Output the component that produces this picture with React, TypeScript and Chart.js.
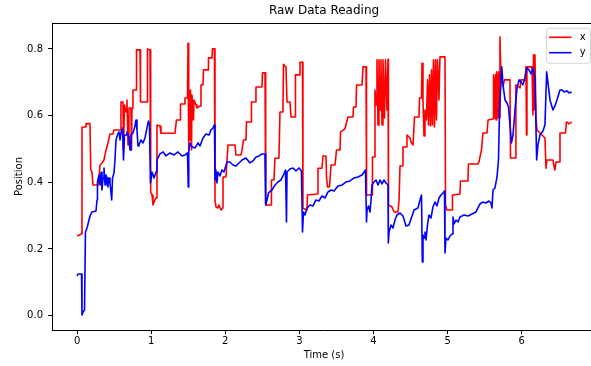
import React, { useEffect, useRef } from "react";
import { Chart, registerables } from "chart.js";

Chart.register(...registerables);

const TITLE = "Raw Data Reading";
const X_LABEL = "Time (s)";
const Y_LABEL = "Position";
const SERIES_NAMES = ["x", "y"];
const SERIES_COLORS = ["#ff0000", "#0000ff"];

const xTicks = [0, 1, 2, 3, 4, 5, 6];
const yTicks = [0, 0.2, 0.4, 0.6, 0.8];
const X_MIN = -0.3387;
const X_MAX = 7.003;
const Y_MIN = -0.0429;
const Y_MAX = 0.8777;

// series "x" (red)
const xSeriesTime = [
  0.0, 0.06, 0.066, 0.107, 0.12, 0.174, 0.184, 0.2, 0.215, 0.286, 0.31, 0.336, 0.363, 0.39, 0.417, 0.444,
  0.484, 0.498, 0.586, 0.592, 0.619, 0.626, 0.64, 0.66, 0.673, 0.687, 0.7, 0.727, 0.734, 0.741, 0.754, 0.795,
  0.802, 0.849, 0.856, 0.947, 0.95, 0.984, 0.993, 1.011, 1.024, 1.051, 1.065, 1.078, 1.119, 1.132, 1.321, 1.341,
  1.389, 1.395, 1.443, 1.456, 1.49, 1.497, 1.503, 1.51, 1.524, 1.53, 1.544, 1.551, 1.571, 1.578, 1.605, 1.618,
  1.659, 1.672, 1.699, 1.706, 1.767, 1.773, 1.82, 1.827, 1.854, 1.861, 1.874, 1.9, 1.913, 1.942, 1.962, 1.969,
  2.009, 2.036, 2.131, 2.144, 2.212, 2.226, 2.245, 2.279, 2.286, 2.347, 2.353, 2.407, 2.414, 2.495, 2.502, 2.536,
  2.545, 2.617, 2.623, 2.657, 2.67, 2.724, 2.738, 2.778, 2.785, 2.819, 2.833, 2.873, 2.887, 2.941, 2.947, 2.995,
  3.008, 3.042, 3.048, 3.102, 3.109, 3.244, 3.251, 3.305, 3.318, 3.359, 3.366, 3.38, 3.406, 3.427, 3.481, 3.501,
  3.548, 3.555, 3.615, 3.656, 3.723, 3.73, 3.764, 3.771, 3.845, 3.859, 3.899, 3.906, 3.98, 3.986, 4.007, 4.02,
  4.034, 4.047, 4.061, 4.074, 4.088, 4.101, 4.115, 4.128, 4.149, 4.162, 4.182, 4.196, 4.202, 4.25, 4.277, 4.331,
  4.345, 4.358, 4.385, 4.398, 4.439, 4.452, 4.493, 4.507, 4.534, 4.553, 4.614, 4.621, 4.648, 4.655, 4.668, 4.682,
  4.695, 4.715, 4.729, 4.743, 4.756, 4.77, 4.783, 4.796, 4.81, 4.823, 4.837, 4.85, 4.864, 4.884, 4.897, 4.965,
  4.972, 4.992, 5.06, 5.066, 5.167, 5.174, 5.275, 5.282, 5.41, 5.424, 5.457, 5.478, 5.532, 5.546, 5.613, 5.62,
  5.627, 5.634, 5.64, 5.647, 5.654, 5.661, 5.667, 5.674, 5.68, 5.687, 5.694, 5.707, 5.721, 5.748, 5.768, 5.842,
  5.849, 5.916, 5.922, 5.977, 5.99, 6.044, 6.058, 6.065, 6.071, 6.139, 6.152, 6.159, 6.172, 6.179, 6.193, 6.206,
  6.314, 6.328, 6.341, 6.422, 6.436, 6.449, 6.463, 6.51, 6.517, 6.591, 6.604, 6.638, 6.675,
];
const xSeriesPos = [
  0.239, 0.245, 0.565, 0.566, 0.576, 0.576, 0.437, 0.431, 0.392, 0.392, 0.452, 0.458, 0.467, 0.497, 0.518, 0.545,
  0.545, 0.557, 0.557, 0.641, 0.641, 0.497, 0.632, 0.611, 0.647, 0.512, 0.623, 0.623, 0.497, 0.623, 0.677, 0.677,
  0.797, 0.797, 0.641, 0.641, 0.8, 0.797, 0.371, 0.362, 0.332, 0.347, 0.353, 0.572, 0.569, 0.547, 0.547, 0.587,
  0.587, 0.635, 0.635, 0.653, 0.653, 0.817, 0.497, 0.688, 0.527, 0.677, 0.497, 0.662, 0.587, 0.647, 0.632, 0.623,
  0.629, 0.692, 0.692, 0.737, 0.737, 0.773, 0.773, 0.8, 0.8, 0.347, 0.326, 0.323, 0.332, 0.317, 0.323, 0.416,
  0.416, 0.512, 0.512, 0.482, 0.482, 0.497, 0.527, 0.527, 0.581, 0.581, 0.641, 0.641, 0.686, 0.686, 0.728, 0.728,
  0.332, 0.332, 0.407, 0.407, 0.472, 0.472, 0.611, 0.611, 0.754, 0.745, 0.641, 0.641, 0.596, 0.596, 0.722, 0.722,
  0.76, 0.76, 0.322, 0.317, 0.362, 0.365, 0.442, 0.442, 0.479, 0.479, 0.416, 0.386, 0.386, 0.452, 0.452, 0.497,
  0.497, 0.551, 0.56, 0.596, 0.596, 0.626, 0.626, 0.692, 0.692, 0.746, 0.746, 0.362, 0.362, 0.476, 0.476, 0.677,
  0.632, 0.767, 0.572, 0.767, 0.617, 0.767, 0.572, 0.767, 0.593, 0.767, 0.617, 0.769, 0.332, 0.326, 0.311, 0.311,
  0.347, 0.449, 0.449, 0.506, 0.506, 0.542, 0.533, 0.521, 0.512, 0.596, 0.596, 0.653, 0.653, 0.757, 0.644, 0.539,
  0.617, 0.587, 0.707, 0.572, 0.722, 0.569, 0.737, 0.572, 0.767, 0.566, 0.767, 0.587, 0.767, 0.647, 0.776, 0.776,
  0.332, 0.317, 0.317, 0.362, 0.365, 0.404, 0.404, 0.455, 0.455, 0.461, 0.497, 0.548, 0.548, 0.587, 0.59, 0.722,
  0.593, 0.713, 0.593, 0.722, 0.587, 0.731, 0.593, 0.722, 0.593, 0.731, 0.593, 0.836, 0.707, 0.688, 0.707, 0.707,
  0.473, 0.473, 0.692, 0.683, 0.707, 0.707, 0.746, 0.542, 0.746, 0.746, 0.602, 0.782, 0.617, 0.782, 0.596, 0.557,
  0.533, 0.442, 0.467, 0.467, 0.449, 0.437, 0.461, 0.461, 0.548, 0.548, 0.581, 0.575, 0.581,
];

// series "y" (blue)
const ySeriesTime = [
  0.0, 0.013, 0.06, 0.066, 0.08, 0.1, 0.113, 0.134, 0.154, 0.174, 0.201, 0.255, 0.269, 0.275, 0.296, 0.31,
  0.323, 0.336, 0.35, 0.363, 0.377, 0.39, 0.404, 0.417, 0.431, 0.444, 0.458, 0.467, 0.478, 0.498, 0.511, 0.525,
  0.545, 0.565, 0.579, 0.592, 0.613, 0.626, 0.64, 0.66, 0.673, 0.7, 0.714, 0.727, 0.754, 0.781, 0.795, 0.808,
  0.822, 0.835, 0.862, 0.889, 0.916, 0.943, 0.964, 0.977, 0.991, 1.011, 1.038, 1.065, 1.078, 1.119, 1.16, 1.2,
  1.254, 1.308, 1.362, 1.416, 1.456, 1.49, 1.5, 1.507, 1.524, 1.551, 1.592, 1.632, 1.659, 1.699, 1.74, 1.781,
  1.807, 1.834, 1.854, 1.861, 1.874, 1.888, 1.9, 1.928, 1.955, 1.982, 2.023, 2.063, 2.104, 2.144, 2.185, 2.226,
  2.279, 2.334, 2.374, 2.415, 2.455, 2.495, 2.536, 2.545, 2.563, 2.583, 2.63, 2.671, 2.711, 2.752, 2.785, 2.813,
  2.826, 2.833, 2.873, 2.914, 2.954, 2.995, 3.028, 3.042, 3.056, 3.075, 3.103, 3.143, 3.183, 3.224, 3.264, 3.305,
  3.346, 3.386, 3.427, 3.467, 3.521, 3.58, 3.629, 3.683, 3.737, 3.791, 3.845, 3.892, 3.906, 3.913, 3.933, 3.953,
  3.967, 3.98, 4.007, 4.034, 4.061, 4.088, 4.115, 4.142, 4.169, 4.196, 4.2, 4.21, 4.236, 4.263, 4.29, 4.317,
  4.358, 4.398, 4.439, 4.479, 4.52, 4.547, 4.6, 4.628, 4.648, 4.659, 4.668, 4.682, 4.695, 4.709, 4.729, 4.749,
  4.776, 4.803, 4.83, 4.857, 4.884, 4.911, 4.938, 4.958, 4.965, 4.978, 5.005, 5.032, 5.06, 5.073, 5.087, 5.114,
  5.141, 5.167, 5.221, 5.275, 5.33, 5.383, 5.41, 5.437, 5.478, 5.518, 5.559, 5.586, 5.599, 5.613, 5.64, 5.667,
  5.687, 5.701, 5.731, 5.748, 5.775, 5.802, 5.822, 5.842, 5.862, 5.883, 5.91, 5.937, 5.964, 5.99, 6.017, 6.044,
  6.071, 6.098, 6.125, 6.152, 6.179, 6.202, 6.22, 6.247, 6.287, 6.314, 6.337, 6.355, 6.382, 6.422, 6.449, 6.476,
  6.517, 6.544, 6.571, 6.611, 6.638, 6.675,
];
const ySeriesPos = [
  0.119, 0.125, 0.125, 0.002, 0.011, 0.017, 0.251, 0.263, 0.281, 0.299, 0.311, 0.314, 0.347, 0.401, 0.422, 0.392,
  0.43, 0.377, 0.413, 0.443, 0.392, 0.422, 0.413, 0.386, 0.413, 0.398, 0.368, 0.347, 0.413, 0.428, 0.467, 0.527,
  0.542, 0.551, 0.527, 0.548, 0.563, 0.467, 0.542, 0.542, 0.551, 0.533, 0.497, 0.542, 0.548, 0.569, 0.587, 0.557,
  0.509, 0.512, 0.527, 0.518, 0.533, 0.563, 0.584, 0.572, 0.398, 0.431, 0.413, 0.431, 0.467, 0.485, 0.491, 0.479,
  0.488, 0.482, 0.491, 0.479, 0.482, 0.488, 0.386, 0.491, 0.518, 0.506, 0.503, 0.518, 0.509, 0.533, 0.545, 0.542,
  0.557, 0.563, 0.572, 0.407, 0.437, 0.398, 0.431, 0.419, 0.437, 0.431, 0.461, 0.461, 0.452, 0.449, 0.458, 0.467,
  0.473, 0.458, 0.464, 0.476, 0.479, 0.485, 0.485, 0.332, 0.347, 0.368, 0.377, 0.392, 0.401, 0.407, 0.422, 0.437,
  0.281, 0.431, 0.44, 0.443, 0.434, 0.443, 0.434, 0.251, 0.311, 0.302, 0.323, 0.332, 0.329, 0.347, 0.344, 0.359,
  0.353, 0.371, 0.377, 0.374, 0.389, 0.392, 0.401, 0.404, 0.413, 0.416, 0.422, 0.437, 0.281, 0.317, 0.329, 0.311,
  0.347, 0.392, 0.401, 0.407, 0.392, 0.407, 0.395, 0.407, 0.398, 0.392, 0.218, 0.251, 0.272, 0.263, 0.287, 0.302,
  0.308, 0.299, 0.269, 0.272, 0.299, 0.317, 0.323, 0.347, 0.362, 0.161, 0.242, 0.233, 0.251, 0.227, 0.272, 0.302,
  0.293, 0.326, 0.341, 0.329, 0.353, 0.362, 0.368, 0.374, 0.188, 0.233, 0.227, 0.239, 0.245, 0.296, 0.275, 0.287,
  0.281, 0.296, 0.302, 0.299, 0.305, 0.311, 0.323, 0.335, 0.341, 0.338, 0.344, 0.338, 0.323, 0.377, 0.383, 0.416,
  0.467, 0.617, 0.746, 0.692, 0.647, 0.638, 0.626, 0.572, 0.518, 0.542, 0.617, 0.683, 0.707, 0.701, 0.692, 0.713,
  0.743, 0.737, 0.725, 0.743, 0.713, 0.467, 0.512, 0.542, 0.554, 0.572, 0.731, 0.698, 0.647, 0.617, 0.629, 0.647,
  0.677, 0.677, 0.671, 0.674, 0.668, 0.671,
];

const FONT_FAMILY = "'DejaVu Sans', sans-serif";
const TEXT_COLOR = "#000000";

const framePlugin = {
  id: "mplFrame",
  afterDraw(chart: any) {
    const { ctx, chartArea: a } = chart;
    ctx.save();
    ctx.strokeStyle = "#000000";
    ctx.lineWidth = 1;
    ctx.beginPath();
    const top = Math.round(a.top) + 0.5;
    const right = Math.round(a.right) + 0.5;
    ctx.moveTo(Math.round(a.left), top);
    ctx.lineTo(right, top);
    ctx.lineTo(right, Math.round(a.bottom));
    ctx.stroke();
    ctx.restore();
  },
};

const legendPlugin = {
  id: "mplLegend",
  afterDraw(chart: any) {
    const { ctx, chartArea: a } = chart;
    const datasets = chart.data.datasets;
    const w = 44;
    const h = 35;
    const x0 = a.right - 5.5 - w;
    const y0 = a.top + 5.3;
    const r = 2.5;
    ctx.save();
    ctx.beginPath();
    ctx.moveTo(x0 + r, y0);
    ctx.lineTo(x0 + w - r, y0);
    ctx.quadraticCurveTo(x0 + w, y0, x0 + w, y0 + r);
    ctx.lineTo(x0 + w, y0 + h - r);
    ctx.quadraticCurveTo(x0 + w, y0 + h, x0 + w - r, y0 + h);
    ctx.lineTo(x0 + r, y0 + h);
    ctx.quadraticCurveTo(x0, y0 + h, x0, y0 + h - r);
    ctx.lineTo(x0, y0 + r);
    ctx.quadraticCurveTo(x0, y0, x0 + r, y0);
    ctx.closePath();
    ctx.fillStyle = "rgba(255,255,255,0.8)";
    ctx.fill();
    ctx.strokeStyle = "rgba(204,204,204,0.8)";
    ctx.lineWidth = 1;
    ctx.stroke();
    ctx.font = `10px ${FONT_FAMILY}`;
    ctx.textBaseline = "middle";
    ctx.textAlign = "left";
    datasets.forEach((ds: any, i: number) => {
      const ly = y0 + 9 + i * 15.4;
      ctx.beginPath();
      ctx.strokeStyle = ds.borderColor;
      ctx.lineWidth = ds.borderWidth;
      ctx.moveTo(x0 + 2.6, ly);
      ctx.lineTo(x0 + 25, ly);
      ctx.stroke();
      ctx.fillStyle = TEXT_COLOR;
      ctx.fillText(ds.label, x0 + 33.3, ly);
    });
    ctx.restore();
  },
};

export default function App() {
  const canvasRef = useRef<HTMLCanvasElement | null>(null);

  useEffect(() => {
    if (!canvasRef.current) return;
    Chart.defaults.font.family = FONT_FAMILY;
    const tickFont = { family: FONT_FAMILY, size: 10 };
    const chart = new Chart(canvasRef.current, {
      type: "line",
      data: {
        datasets: [
          {
            label: SERIES_NAMES[0],
            data: xSeriesTime.map((t, i) => ({ x: t, y: xSeriesPos[i] })),
            borderColor: SERIES_COLORS[0],
            backgroundColor: SERIES_COLORS[0],
            borderWidth: 1.6,
            pointRadius: 0,
            tension: 0,
            fill: false,
            order: 2,
            borderJoinStyle: "round",
          },
          {
            label: SERIES_NAMES[1],
            data: ySeriesTime.map((t, i) => ({ x: t, y: ySeriesPos[i] })),
            borderColor: SERIES_COLORS[1],
            backgroundColor: SERIES_COLORS[1],
            borderWidth: 1.6,
            pointRadius: 0,
            tension: 0,
            fill: false,
            order: 1,
            borderJoinStyle: "round",
          },
        ],
      },
      options: {
        responsive: false,
        animation: false,
        devicePixelRatio: 1,
        layout: { padding: { left: 0, right: 2, top: 0, bottom: 0 } },
        plugins: {
          legend: { display: false },
          tooltip: { enabled: false },
          title: {
            display: true,
            text: TITLE,
            fullSize: false,
            color: TEXT_COLOR,
            font: { family: FONT_FAMILY, size: 12, weight: "normal" },
            padding: { top: 4, bottom: 4.6 },
          },
        },
        scales: {
          x: {
            type: "linear",
            min: X_MIN,
            max: X_MAX,
            afterBuildTicks: (s: any) => {
              s.ticks = xTicks.map((v) => ({ value: v }));
            },
            afterFit: (s: any) => {
              s.height = 36;
            },
            ticks: {
              callback: (v: any) => String(v),
              font: tickFont,
              color: TEXT_COLOR,
              padding: 1,
              maxRotation: 0,
              autoSkip: false,
            },
            grid: { drawOnChartArea: false, drawTicks: true, tickLength: 4, color: "#000000" },
            border: { display: true, color: "#000000", width: 1 },
            title: {
              display: true,
              text: X_LABEL,
              color: TEXT_COLOR,
              font: tickFont,
              padding: { top: 0, bottom: 4.5 },
            },
          },
          y: {
            type: "linear",
            min: Y_MIN,
            max: Y_MAX,
            afterBuildTicks: (s: any) => {
              s.ticks = yTicks.map((v) => ({ value: v }));
            },
            afterFit: (s: any) => {
              s.width = 52;
            },
            ticks: {
              callback: (v: any) => Number(v).toFixed(1),
              font: tickFont,
              color: TEXT_COLOR,
              padding: 5,
              autoSkip: false,
            },
            grid: { drawOnChartArea: false, drawTicks: true, tickLength: 4, color: "#000000" },
            border: { display: true, color: "#000000", width: 1 },
            title: {
              display: true,
              text: Y_LABEL,
              color: TEXT_COLOR,
              font: tickFont,
              padding: { top: 13, bottom: 0 },
            },
          },
        },
      } as any,
      plugins: [framePlugin, legendPlugin],
    });
    return () => chart.destroy();
  }, []);

  return (
    <div
      style={{
        position: "fixed",
        left: 0,
        top: 0,
        width: 591,
        height: 366,
        overflow: "hidden",
        background: "#ffffff",
      }}
    >
      <canvas ref={canvasRef} width={598} height={366} style={{ width: 598, height: 366, display: "block" }} />
    </div>
  );
}
